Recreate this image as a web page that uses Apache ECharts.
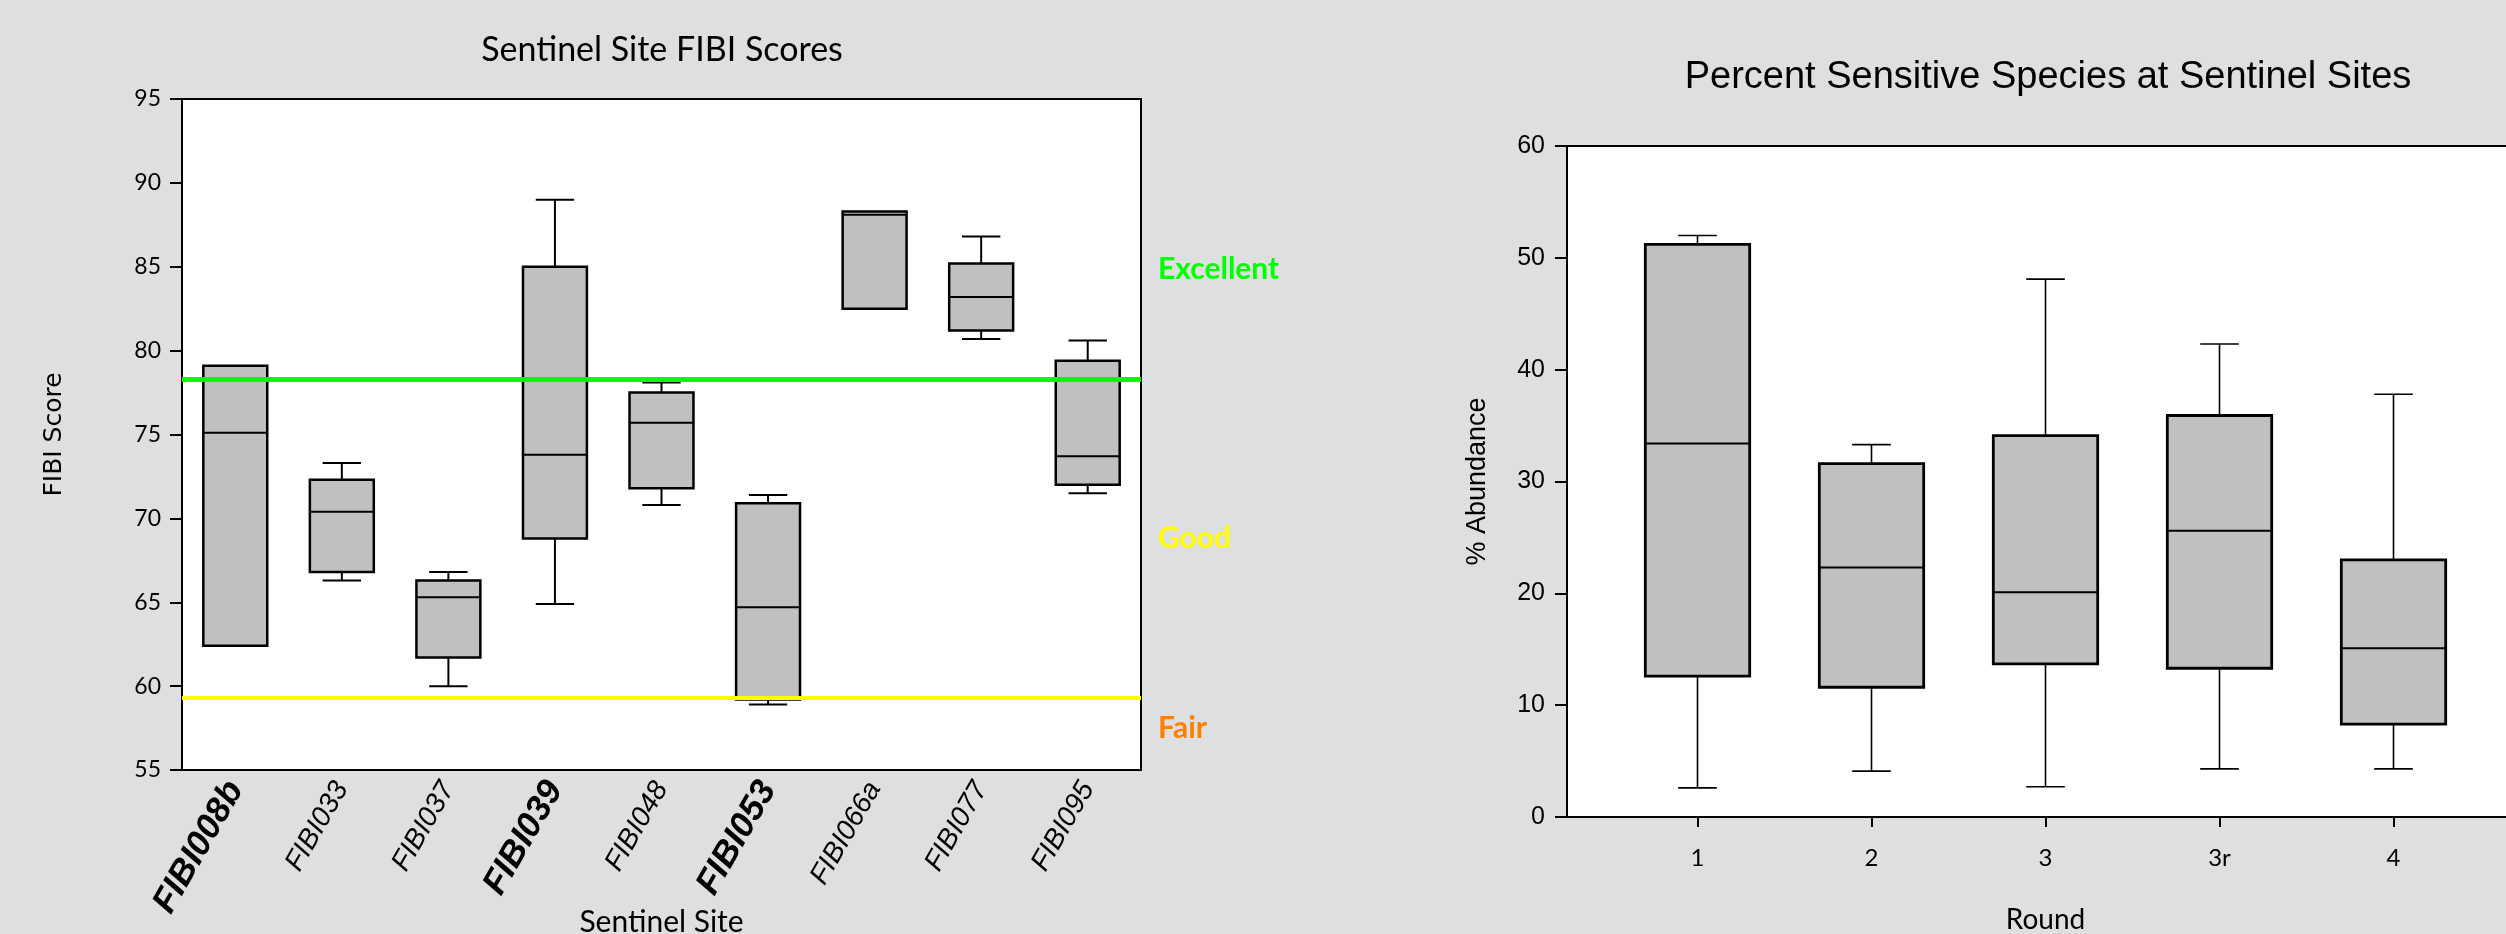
<!DOCTYPE html>
<html>
<head>
<meta charset="utf-8">
<script src="https://cdn.jsdelivr.net/npm/echarts@6/dist/echarts.min.js"></script>
<style>
  html, body { margin: 0; padding: 0; background: #dedfe1; }
  #chart { width: 2506px; height: 934px; }
</style>
</head>
<body>
<div id="chart"></div>
<script>
// left panel: FIBI scores per sentinel site
const sites = ['FIBI008b', 'FIBI033', 'FIBI037', 'FIBI039', 'FIBI048', 'FIBI053', 'FIBI066a', 'FIBI077', 'FIBI095']
const boldSites = ['FIBI008b', 'FIBI039', 'FIBI053']
const fibiMin = [62.4, 66.3, 60.0, 64.9, 70.8, 58.9, 82.5, 80.7, 71.5]
const fibiQ1 = [62.4, 66.8, 61.7, 68.8, 71.8, 59.2, 82.5, 81.2, 72.0]
const fibiMedian = [75.1, 70.4, 65.3, 73.8, 75.7, 64.7, 88.1, 83.2, 73.7]
const fibiQ3 = [79.1, 72.3, 66.3, 85.0, 77.5, 70.9, 88.3, 85.2, 79.4]
const fibiMax = [79.1, 73.3, 66.8, 89.0, 78.1, 71.4, 88.3, 86.8, 80.6]
const excellentLine = 78.3
const fairLine = 59.3

// right panel: % sensitive species per round
const rounds = ['1', '2', '3', '3r', '4']
const pctMin = [2.6, 4.1, 2.7, 4.3, 4.3]
const pctQ1 = [12.6, 11.6, 13.7, 13.3, 8.3]
const pctMedian = [33.4, 22.3, 20.1, 25.6, 15.1]
const pctQ3 = [51.2, 31.6, 34.1, 35.9, 23.0]
const pctMax = [52.0, 33.3, 48.1, 42.3, 37.8]

const fibiData = sites.map((s, i) => [i, fibiMin[i], fibiQ1[i], fibiMedian[i], fibiQ3[i], fibiMax[i]])
const pctData = rounds.map((r, i) => [i + 1, pctMin[i], pctQ1[i], pctMedian[i], pctQ3[i], pctMax[i]])

function boxRenderer(boxRatio, capRatio, boxLine, whiskerLine, medianLine) {
  return function (params, api) {
    const x = api.value(0)
    const pMin = api.coord([x, api.value(1)])
    const pQ1 = api.coord([x, api.value(2)])
    const pMed = api.coord([x, api.value(3)])
    const pQ3 = api.coord([x, api.value(4)])
    const pMax = api.coord([x, api.value(5)])
    const bw = api.size([1, 0])[0] * boxRatio
    const cw = bw * capRatio
    const cx = pMed[0]
    const seg = (x1, y1, x2, y2, w) => ({
      type: 'line', shape: { x1, y1, x2, y2 }, style: { stroke: '#000', lineWidth: w }
    })
    const children = []
    if (api.value(5) > api.value(4)) {
      children.push(seg(cx, pQ3[1], cx, pMax[1], whiskerLine))
      children.push(seg(cx - cw / 2, pMax[1], cx + cw / 2, pMax[1], whiskerLine))
    }
    if (api.value(1) < api.value(2)) {
      children.push(seg(cx, pQ1[1], cx, pMin[1], whiskerLine))
      children.push(seg(cx - cw / 2, pMin[1], cx + cw / 2, pMin[1], whiskerLine))
    }
    children.push({
      type: 'rect',
      shape: { x: cx - bw / 2, y: pQ3[1], width: bw, height: pQ1[1] - pQ3[1] },
      style: { fill: '#c0c0c0', stroke: '#000', lineWidth: boxLine }
    })
    children.push(seg(cx - bw / 2, pMed[1], cx + bw / 2, pMed[1], medianLine))
    return { type: 'group', children }
  }
}

const chart = echarts.init(document.getElementById('chart'))
chart.setOption({
  backgroundColor: '#dedfe1',
  animation: false,
  graphic: [
    { type: 'text', x: 662, y: 50, style: { text: 'Sentinel Site FIBI Scores', font: '34px Lato', fill: '#000', textAlign: 'center', textVerticalAlign: 'middle' } },
    { type: 'text', x: 2048, y: 78, style: { text: 'Percent Sensitive Species at Sentinel Sites', font: '38px "Liberation Sans"', fill: '#000', textAlign: 'center', textVerticalAlign: 'middle' } },
    { type: 'text', x: 1158, y: 269, style: { text: 'Excellent', font: 'bold 30px Lato', fill: '#00ff00', textVerticalAlign: 'middle' } },
    { type: 'text', x: 1158, y: 538, style: { text: 'Good', font: 'bold 30px Lato', fill: '#ffff00', textVerticalAlign: 'middle' } },
    { type: 'text', x: 1158, y: 728, style: { text: 'Fair', font: 'bold 30px Lato', fill: '#ff8000', textVerticalAlign: 'middle' } }
  ],
  grid: [
    { left: 182, top: 99, width: 959, height: 671, outerBoundsMode: 'none', containLabel: false, show: true, backgroundColor: '#fff', borderColor: '#000', borderWidth: 2 },
    { left: 1567, top: 146, width: 957, height: 671, outerBoundsMode: 'none', containLabel: false, show: true, backgroundColor: '#fff', borderColor: '#000', borderWidth: 2 }
  ],
  xAxis: [
    {
      gridIndex: 0, type: 'category', data: sites, boundaryGap: true,
      name: 'Sentinel Site', nameLocation: 'middle', nameGap: 137, nameMoveOverlap: false,
      nameTextStyle: { fontFamily: 'Lato', fontSize: 30, color: '#000' },
      axisLine: { lineStyle: { color: '#000', width: 2 } },
      axisTick: { show: false },
      splitLine: { show: false },
      axisLabel: {
        interval: 0, rotate: 60, margin: 14,
        formatter: v => boldSites.includes(v) ? '{b|' + v + '}' : '{n|' + v + '}',
        rich: {
          b: { fontFamily: 'Liberation Sans', fontStyle: 'italic', fontWeight: 'bold', fontSize: 35, color: '#000' },
          n: { fontFamily: 'Liberation Sans', fontStyle: 'italic', fontSize: 28, color: '#000' }
        }
      }
    },
    {
      gridIndex: 1, type: 'value', min: 0.25, max: 5.75,
      name: 'Round', nameLocation: 'middle', nameGap: 89,
      nameTextStyle: { fontFamily: 'Lato', fontSize: 28, color: '#000' },
      axisLine: { lineStyle: { color: '#000', width: 2 } },
      axisTick: { show: true, length: 10, customValues: [1, 2, 3, 4, 5], lineStyle: { color: '#000', width: 2 } },
      splitLine: { show: false },
      axisLabel: {
        customValues: [1, 2, 3, 4, 5], margin: 29,
        formatter: v => rounds[Math.round(v) - 1] || '',
        fontFamily: 'Lato', fontSize: 24, color: '#000'
      }
    }
  ],
  yAxis: [
    {
      gridIndex: 0, type: 'value', min: 55, max: 95, interval: 5,
      name: 'FIBI Score', nameLocation: 'middle', nameGap: 115,
      nameTextStyle: { fontFamily: 'DejaVu Sans', fontSize: 25, color: '#000' },
      axisLine: { show: true, lineStyle: { color: '#000', width: 2 } },
      axisTick: { show: true, length: 12, lineStyle: { color: '#000', width: 2 } },
      splitLine: { show: false },
      axisLabel: { margin: 21, fontFamily: 'Lato', fontSize: 23, color: '#000' }
    },
    {
      gridIndex: 1, type: 'value', min: 0, max: 60, interval: 10,
      name: '% Abundance', nameLocation: 'middle', nameGap: 76,
      nameTextStyle: { fontFamily: 'Liberation Sans', fontSize: 27, color: '#000' },
      axisLine: { show: true, lineStyle: { color: '#000', width: 2 } },
      axisTick: { show: true, length: 12, lineStyle: { color: '#000', width: 2 } },
      splitLine: { show: false },
      axisLabel: { margin: 22, fontFamily: 'Liberation Sans', fontSize: 25, color: '#000' }
    }
  ],
  series: [
    {
      type: 'custom', xAxisIndex: 0, yAxisIndex: 0,
      renderItem: boxRenderer(0.6, 0.6, 2.5, 2, 2),
      encode: { x: 0, y: [1, 2, 3, 4, 5] },
      data: fibiData,
      markLine: {
        silent: true, symbol: 'none', label: { show: false },
        data: [
          { yAxis: excellentLine, lineStyle: { color: '#00ff00', width: 5, type: 'solid' } },
          { yAxis: fairLine, lineStyle: { color: '#ffff00', width: 4, type: 'solid' } }
        ]
      }
    },
    {
      type: 'custom', xAxisIndex: 1, yAxisIndex: 1,
      renderItem: boxRenderer(0.6, 0.37, 2.8, 1.6, 2),
      encode: { x: 0, y: [1, 2, 3, 4, 5] },
      data: pctData
    }
  ]
})
</script>
</body>
</html>
